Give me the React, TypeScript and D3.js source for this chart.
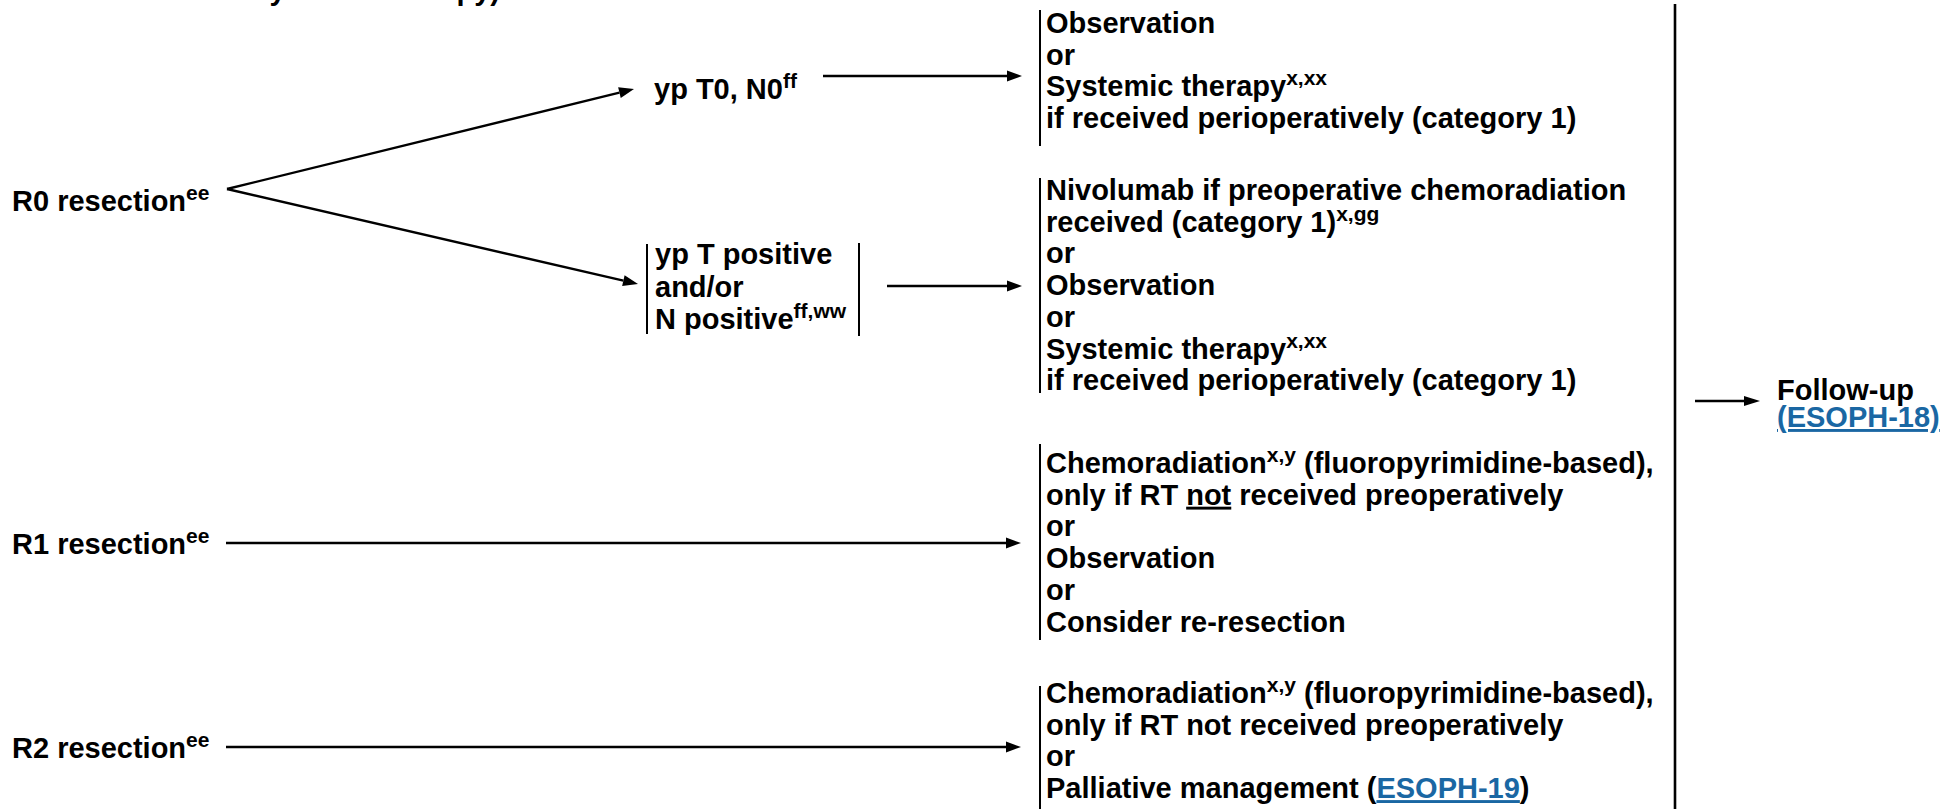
import { line } from "d3";

// ---- text content ----
const topNote = "Clinical Outcomes After Chemoradiation or Systemic therapy)";
const resections = ["R0 resection^{ee}", "R1 resection^{ee}", "R2 resection^{ee}"];
const t0Finding = "yp T0, N0^{ff}";
const tPosFinding = ["yp T positive", "and/or", "N positive^{ff,ww}"];
const blockT0 = [
    "Observation",
    "or",
    "Systemic therapy^{x,xx}",
    "if received perioperatively (category 1)",
];
const blockTPos = [
    "Nivolumab if preoperative chemoradiation",
    "received (category 1)^{x,gg}",
    "or",
    "Observation",
    "or",
    "Systemic therapy^{x,xx}",
    "if received perioperatively (category 1)",
];
const blockR1 = [
    "Chemoradiation^{x,y} (fluoropyrimidine-based),",
    "only if RT _not_ received preoperatively",
    "or",
    "Observation",
    "or",
    "Consider re-resection",
];
const blockR2 = [
    "Chemoradiation^{x,y} (fluoropyrimidine-based),",
    "only if RT not received preoperatively",
    "or",
    "Palliative management ([ESOPH-19])",
];
const followUp = ["Follow-up", "[(ESOPH-18)]"];

const FONT = "'Liberation Sans', Arial, Helvetica, sans-serif";
const FS = 29;
const SUP = 21;
const RAISE = 11;
const LINK = "#1a67a3";
const LH = 31.7;

type Pt = [number, number];

// split "abc^{x}" / "[link]" / "_under_" markup into tspans
function RichText({ text, x, y, anchor }: { text: string; x: number; y: number; anchor?: string }) {
    const parts = text.split(/(\^\{[^}]*\}|\[[^\]]*\]|_[^_]*_)/).filter((p) => p !== "");
    let raised = false;
    const spans = parts.map((p, i) => {
        let dy = 0;
        if (p.startsWith("^{")) {
            raised = true;
            return (
                <tspan key={i} dy={-RAISE} fontSize={SUP}>
                    {p.slice(2, -1)}
                </tspan>
            );
        }
        if (raised) {
            dy = RAISE;
            raised = false;
        }
        if (p.startsWith("[")) {
            return (
                <tspan key={i} dy={dy} fill={LINK} textDecoration="underline">
                    {p.slice(1, -1)}
                </tspan>
            );
        }
        if (p.startsWith("_") && p.endsWith("_") && p.length > 2) {
            return (
                <tspan key={i} dy={dy} textDecoration="underline">
                    {p.slice(1, -1)}
                </tspan>
            );
        }
        return (
            <tspan key={i} dy={dy}>
                {p}
            </tspan>
        );
    });
    return (
        <text x={x} y={y} textAnchor={anchor} fontSize={FS} fontWeight="bold" fill="#000" xmlSpace="preserve">
            {spans}
        </text>
    );
}

const seg = line<Pt>();

function Arrow({ from, to, head = 15, half = 5.5 }: { from: Pt; to: Pt; head?: number; half?: number }) {
    const dx = to[0] - from[0];
    const dy = to[1] - from[1];
    const len = Math.hypot(dx, dy);
    const ux = dx / len;
    const uy = dy / len;
    const base: Pt = [to[0] - ux * head, to[1] - uy * head];
    const tri: Pt[] = [
        to,
        [base[0] - uy * half, base[1] + ux * half],
        [base[0] + uy * half, base[1] - ux * half],
    ];
    return (
        <g>
            <path d={seg([from, base]) ?? ""} stroke="#000" strokeWidth={2.4} fill="none" />
            <path d={(seg(tri) ?? "") + "Z"} fill="#000" />
        </g>
    );
}

function Block({ lines, x, y0, barTop, barBottom }: { lines: string[]; x: number; y0: number; barTop: number; barBottom: number }) {
    return (
        <g>
            <path d={seg([[x, barTop], [x, barBottom]]) ?? ""} stroke="#000" strokeWidth={2} />
            {lines.map((l, i) => (
                <RichText key={i} text={l} x={x + 6} y={y0 + i * LH} />
            ))}
        </g>
    );
}

export default function App() {
    const W = 1952;
    const H = 809;
    const vertex: Pt = [227, 189];
    const colX = 1040;
    return (
        <svg
            width={W}
            height={H}
            style={{ position: "absolute", left: 0, top: 0, background: "#fff", fontFamily: FONT }}
        >
            <rect width={W} height={H} fill="#fff" />
            <RichText text={topNote} x={500} y={0} anchor="end" />

            {/* resection nodes */}
            <RichText text={resections[0]} x={12} y={211} />
            <RichText text={resections[1]} x={12} y={554} />
            <RichText text={resections[2]} x={12} y={758} />

            {/* R0 branches */}
            <Arrow from={vertex} to={[634, 89]} />
            <Arrow from={vertex} to={[638, 284]} />
            <RichText text={t0Finding} x={654} y={99} />
            <Arrow from={[823, 76]} to={[1022, 76]} />

            <path d={seg([[647, 244], [647, 334]]) ?? ""} stroke="#000" strokeWidth={2} />
            <path d={seg([[859, 243], [859, 336]]) ?? ""} stroke="#000" strokeWidth={2} />
            {tPosFinding.map((l, i) => (
                <RichText key={i} text={l} x={655} y={264 + i * 32.5} />
            ))}
            <Arrow from={[887, 286]} to={[1022, 286]} />

            {/* R1 / R2 arrows */}
            <Arrow from={[226, 543]} to={[1021, 543]} />
            <Arrow from={[226, 747]} to={[1021, 747]} />

            {/* treatment blocks */}
            <Block lines={blockT0} x={colX} y0={33} barTop={10} barBottom={146} />
            <Block lines={blockTPos} x={colX} y0={200} barTop={178} barBottom={393} />
            <Block lines={blockR1} x={colX} y0={473} barTop={444} barBottom={640} />
            <Block lines={blockR2} x={colX} y0={703} barTop={686} barBottom={812} />

            {/* collector bar and follow-up */}
            <path d={seg([[1675, 4], [1675, 812]]) ?? ""} stroke="#000" strokeWidth={2.6} />
            <Arrow from={[1695, 401]} to={[1760, 401]} head={16} half={5} />
            {followUp.map((l, i) => (
                <RichText key={i} text={l} x={1777} y={400 + i * 27} />
            ))}
        </svg>
    );
}
